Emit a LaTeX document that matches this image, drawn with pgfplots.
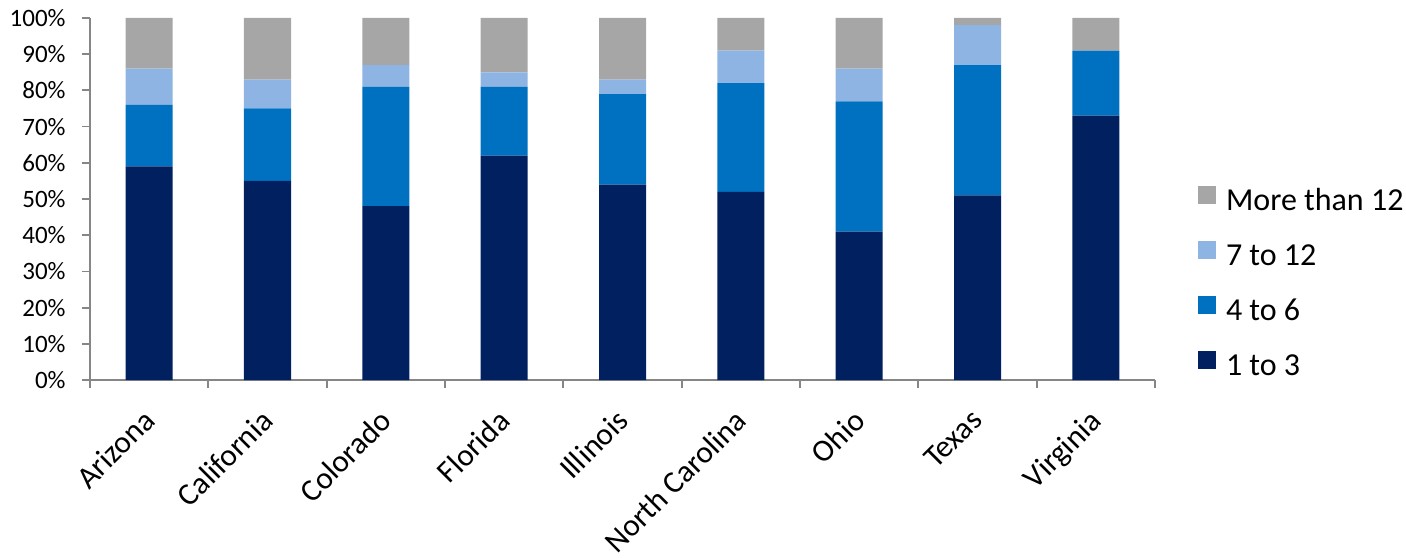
\documentclass[border=0pt]{standalone}
\usepackage{pgfplots}
\pgfplotsset{compat=1.18}
\usepackage{fontspec}
\setmainfont{Carlito}
\definecolor{cA}{RGB}{0,32,96}
\definecolor{cB}{RGB}{0,112,192}
\definecolor{cC}{RGB}{141,180,226}
\definecolor{cD}{RGB}{166,166,166}
\definecolor{axg}{RGB}{134,134,134}
\begin{document}
\begin{tikzpicture}
\useasboundingbox (-45pt,-88.5pt) rectangle (658pt,190pt);
\begin{axis}[
  at={(0,0)}, anchor=south west,
  scale only axis, width=532.5pt, height=181pt,
  ybar stacked, bar width=23.5pt,
  xmin=-0.5, xmax=8.5, ymin=0, ymax=100,
  axis x line*=bottom, axis y line*=left,
  axis line style={axg, line width=0.9pt},
  xtick={0,...,8},
  xticklabels={Arizona,California,Colorado,Florida,Illinois,North Carolina,Ohio,Texas,Virginia},
  minor xtick={-0.5,0.5,...,8.5},
  major x tick style={draw=none},
  minor x tick style={axg, line width=0.9pt},
  ytick={0,10,...,100},
  yticklabels={0\%,10\%,20\%,30\%,40\%,50\%,60\%,70\%,80\%,90\%,100\%},
  y tick style={axg, line width=0.9pt},
  tick align=outside, major tick length=4pt, minor tick length=4pt,
  yticklabel style={font=\fontsize{12.5}{14}\selectfont, inner sep=0pt, xshift=-8pt},
  xticklabel style={font=\fontsize{15.6}{18}\selectfont, rotate=45, anchor=north east, inner sep=0pt, xshift=-9.5pt, yshift=-4pt},
  reverse legend,
  legend style={draw=none, at={(axis description cs:1.0404,0.266)}, anchor=west,
    inner sep=0pt, outer sep=0pt, row sep=12.2pt,
    font=\fontsize{16}{18}\selectfont,
    nodes={inner sep=0pt, text height=10.5pt, text depth=3pt},
    /tikz/every odd column/.append style={column sep=5pt}},
  legend cell align=left,
  legend image code/.code={\fill[#1] (0pt,-0.5pt) rectangle (9pt,8.5pt);},
]
\addplot[fill=cA, draw=none] coordinates {(0,59) (1,55) (2,48) (3,62) (4,54) (5,52) (6,41) (7,51) (8,73)};
\addplot[fill=cB, draw=none] coordinates {(0,17) (1,20) (2,33) (3,19) (4,25) (5,30) (6,36) (7,36) (8,18)};
\addplot[fill=cC, draw=none] coordinates {(0,10) (1,8) (2,6) (3,4) (4,4) (5,9) (6,9) (7,11) (8,0)};
\addplot[fill=cD, draw=none] coordinates {(0,14) (1,17) (2,13) (3,15) (4,17) (5,9) (6,14) (7,2) (8,9)};
\legend{1 to 3,4 to 6,7 to 12,More than 12}
\end{axis}
\end{tikzpicture}
\end{document}
